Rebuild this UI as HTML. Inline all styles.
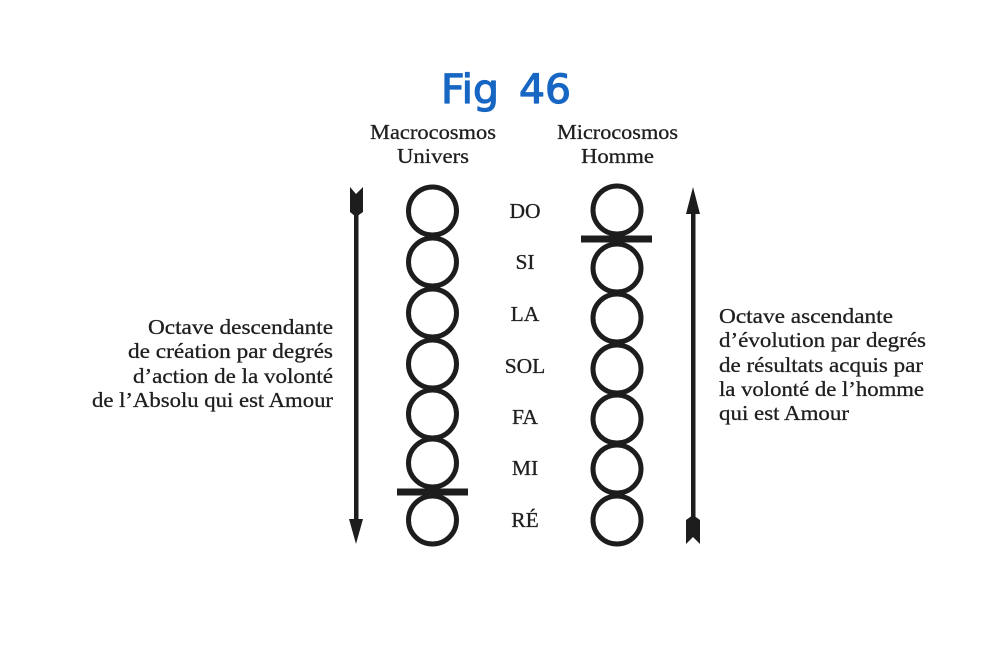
<!DOCTYPE html>
<html>
<head>
<meta charset="utf-8">
<style>
html,body{margin:0;padding:0;background:#fff;}
svg{display:block;}
.t{font-family:"Liberation Serif",serif;font-size:21.5px;fill:#1f1f1f;stroke:#1f1f1f;stroke-width:0.3px;}
.f{font-family:"DejaVu Sans",sans-serif;font-size:40px;fill:#1766c4;stroke:#1766c4;stroke-width:1.2px;stroke-linejoin:round;}
</style>
</head>
<body>
<svg width="1007" height="663" viewBox="0 0 1007 663" xmlns="http://www.w3.org/2000/svg">
<rect width="1007" height="663" fill="#fff"/>
<text class="f" x="441" y="103" textLength="58" lengthAdjust="spacingAndGlyphs">Fig</text>
<text class="f" x="519" y="103" textLength="52" lengthAdjust="spacingAndGlyphs">46</text>

<g class="t">
<text x="370" y="139" textLength="126" lengthAdjust="spacingAndGlyphs">Macrocosmos</text>
<text x="397" y="163" textLength="72" lengthAdjust="spacingAndGlyphs">Univers</text>
<text x="557" y="139" textLength="121" lengthAdjust="spacingAndGlyphs">Microcosmos</text>
<text x="581" y="163" textLength="73" lengthAdjust="spacingAndGlyphs">Homme</text>
</g>
<g class="t" text-anchor="middle">
<text x="525" y="218">DO</text>
<text x="525" y="269">SI</text>
<text x="525" y="321">LA</text>
<text x="525" y="373">SOL</text>
<text x="525" y="424">FA</text>
<text x="525" y="475">MI</text>
<text x="525" y="527">RÉ</text>
</g>

<g fill="none" stroke="#1d1d1d" stroke-width="5">
<circle cx="432.5" cy="211" r="24"/>
<circle cx="432.5" cy="262" r="24"/>
<circle cx="432.5" cy="313" r="24"/>
<circle cx="432.5" cy="364" r="24"/>
<circle cx="432.5" cy="414" r="24"/>
<circle cx="432.5" cy="463" r="24"/>
<circle cx="432.5" cy="520" r="24"/>
<circle cx="617" cy="210" r="24"/>
<circle cx="617" cy="268" r="24"/>
<circle cx="617" cy="318" r="24"/>
<circle cx="617" cy="369" r="24"/>
<circle cx="617" cy="419" r="24"/>
<circle cx="617" cy="469" r="24"/>
<circle cx="617" cy="520" r="24"/>
</g>
<g fill="#1d1d1d">
<rect x="397" y="488.500" width="71" height="7"/>
<rect x="581" y="235.500" width="71" height="7"/>
<rect x="354" y="210" width="4.500" height="312"/>
<polygon points="350,187 356,194 363,187 363,212 356,217 350,212"/>
<polygon points="349,519 363,519 356,544"/>
<rect x="691" y="210" width="4.500" height="312"/>
<polygon points="693,187 700,214 686,214"/>
<polygon points="686,520 693,515 700,520 700,544 693,537 686,544"/>
</g>

<g class="t">
<text x="148" y="334" textLength="185" lengthAdjust="spacingAndGlyphs">Octave descendante</text>
<text x="128" y="358" textLength="205" lengthAdjust="spacingAndGlyphs">de création par degrés</text>
<text x="133" y="383" textLength="200" lengthAdjust="spacingAndGlyphs">d’action de la volonté</text>
<text x="92" y="407" textLength="241" lengthAdjust="spacingAndGlyphs">de l’Absolu qui est Amour</text>
<text x="719" y="323" textLength="174" lengthAdjust="spacingAndGlyphs">Octave ascendante</text>
<text x="719" y="347" textLength="207" lengthAdjust="spacingAndGlyphs">d’évolution par degrés</text>
<text x="719" y="372" textLength="204" lengthAdjust="spacingAndGlyphs">de résultats acquis par</text>
<text x="719" y="396" textLength="205" lengthAdjust="spacingAndGlyphs">la volonté de l’homme</text>
<text x="719" y="420" textLength="130" lengthAdjust="spacingAndGlyphs">qui est Amour</text>
</g>
</svg>
</body>
</html>
